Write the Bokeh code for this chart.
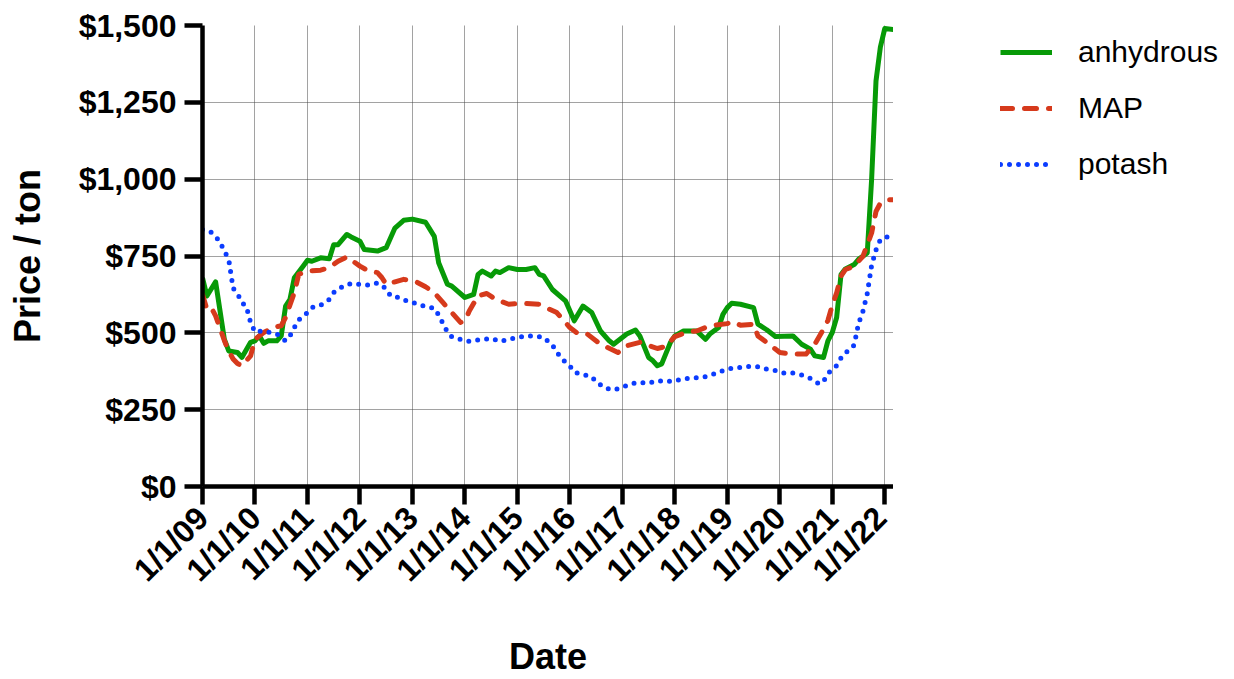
import math
from bokeh.plotting import figure
from bokeh.layouts import row
from bokeh.models import Range1d, FixedTicker, NumeralTickFormatter, Legend, LegendItem
from bokeh.embed import file_html
from bokeh.resources import INLINE

# ---------------- data (monthly prices, $/ton) ----------------
anh_dates = ["2009-01", "2009-02", "2009-04", "2009-06", "2009-07", "2009-09", "2009-10", "2009-12",
             "2010-01", "2010-02", "2010-03", "2010-04", "2010-06", "2010-07", "2010-08", "2010-09",
             "2010-10", "2010-12", "2011-01", "2011-02", "2011-04", "2011-06", "2011-07", "2011-08",
             "2011-10", "2011-11", "2012-01", "2012-02", "2012-05", "2012-07", "2012-09", "2012-11",
             "2013-01", "2013-04", "2013-06", "2013-07", "2013-09", "2013-10", "2014-01", "2014-03",
             "2014-04", "2014-05", "2014-07", "2014-08", "2014-09", "2014-11", "2015-01", "2015-03",
             "2015-05", "2015-06", "2015-07", "2015-09", "2015-12", "2016-02", "2016-04", "2016-06",
             "2016-08", "2016-10", "2016-11", "2017-02", "2017-04", "2017-05", "2017-07", "2017-08",
             "2017-09", "2017-10", "2017-12", "2018-01", "2018-03", "2018-06", "2018-08", "2018-09",
             "2018-11", "2018-12", "2019-01", "2019-02", "2019-04", "2019-07", "2019-08", "2019-10",
             "2019-12", "2020-04", "2020-06", "2020-08", "2020-09", "2020-11", "2020-12", "2021-01",
             "2021-02", "2021-03", "2021-04", "2021-06", "2021-07", "2021-09", "2021-10", "2021-11",
             "2021-12", "2022-01", "2022-03"]
anh_values = [679, 620, 666, 479, 441, 436, 420, 469,
              474, 490, 466, 474, 474, 490, 587, 609,
              679, 717, 736, 733, 744, 741, 787, 787,
              820, 812, 798, 771, 766, 777, 841, 866,
              870, 860, 814, 728, 658, 652, 615, 625,
              690, 701, 685, 701, 696, 712, 706, 706,
              712, 690, 685, 641, 604, 539, 587, 566,
              506, 474, 463, 496, 509, 490, 420, 409,
              393, 399, 469, 490, 506, 506, 479, 496,
              517, 560, 582, 596, 593, 582, 528, 510,
              488, 490, 463, 447, 425, 420, 474, 501,
              550, 690, 708, 722, 739, 760, 1000, 1320,
              1430, 1490, 1487]

map_dates = ["2009-01", "2009-02", "2009-03", "2009-04", "2009-06", "2009-07", "2009-08", "2009-09",
             "2009-10", "2009-12", "2010-01", "2010-03", "2010-05", "2010-07", "2010-08", "2010-10",
             "2010-11", "2011-01", "2011-04", "2011-06", "2011-08", "2011-10", "2012-01", "2012-03",
             "2012-05", "2012-06", "2012-07", "2012-11", "2013-02", "2013-04", "2013-06", "2013-08",
             "2013-10", "2013-12", "2014-01", "2014-02", "2014-04", "2014-06", "2014-08", "2014-11",
             "2015-02", "2015-06", "2015-08", "2015-10", "2016-01", "2016-03", "2016-05", "2016-08",
             "2016-12", "2017-02", "2017-05", "2017-09", "2017-11", "2018-01", "2018-04", "2018-06",
             "2018-09", "2019-01", "2019-02", "2019-04", "2019-07", "2019-08", "2019-10", "2020-01",
             "2020-04", "2020-07", "2020-09", "2020-11", "2020-12", "2021-01", "2021-02", "2021-03",
             "2021-04", "2021-06", "2021-08", "2021-10", "2021-11", "2021-12", "2022-02", "2022-03"]
map_values = [625, 577, 582, 555, 475, 440, 415, 400,
              393, 425, 479, 501, 517, 523, 550, 631,
              690, 701, 704, 712, 733, 747, 717, 701,
              696, 680, 658, 674, 665, 650, 631, 598,
              566, 534, 539, 571, 620, 628, 609, 593,
              596, 593, 579, 566, 517, 496, 496, 463,
              436, 458, 469, 449, 456, 488, 503, 506,
              523, 530, 536, 525, 528, 490, 469, 436,
              431, 431, 463, 512, 540, 590, 630, 685,
              706, 717, 749, 825, 895, 922, 933, 933]

pot_dates = ["2009-01", "2009-03", "2009-04", "2009-05", "2009-06", "2009-07", "2009-08", "2009-09",
             "2009-10", "2009-11", "2009-12", "2010-01", "2010-03", "2010-05", "2010-06", "2010-08",
             "2010-09", "2010-10", "2010-11", "2011-01", "2011-02", "2011-04", "2011-06", "2011-07",
             "2011-09", "2011-11", "2012-01", "2012-03", "2012-05", "2012-07", "2012-08", "2012-10",
             "2012-12", "2013-02", "2013-04", "2013-06", "2013-07", "2013-08", "2013-09", "2013-10",
             "2014-01", "2014-02", "2014-04", "2014-07", "2014-09", "2014-11", "2015-01", "2015-03",
             "2015-05", "2015-07", "2015-09", "2015-10", "2015-11", "2016-01", "2016-02", "2016-04",
             "2016-06", "2016-07", "2016-09", "2016-11", "2017-01", "2017-03", "2017-05", "2017-07",
             "2017-09", "2017-11", "2018-01", "2018-03", "2018-05", "2018-07", "2018-09", "2018-11",
             "2019-01", "2019-03", "2019-06", "2019-08", "2019-10", "2019-12", "2020-02", "2020-04",
             "2020-06", "2020-08", "2020-10", "2020-11", "2020-12", "2021-01", "2021-02", "2021-03",
             "2021-04", "2021-06", "2021-07", "2021-08", "2021-09", "2021-10", "2021-11", "2021-12",
             "2022-01", "2022-02", "2022-03"]
pot_values = [836, 827, 814, 795, 766, 739, 645, 628,
              598, 587, 534, 503, 506, 499, 496, 474,
              490, 517, 542, 566, 582, 590, 609, 631,
              650, 661, 658, 655, 662, 644, 620, 615,
              602, 595, 585, 580, 558, 530, 503, 487,
              474, 472, 477, 482, 472, 479, 485, 490,
              490, 485, 460, 438, 417, 392, 372, 364,
              357, 341, 320, 314, 323, 334, 339, 336,
              344, 341, 344, 350, 353, 354, 361, 372,
              382, 386, 391, 390, 382, 377, 369, 369,
              363, 352, 334, 342, 368, 380, 393, 418,
              434, 460, 530, 570, 628, 720, 770, 803,
              810, 814, 816]

tick_years = [2009, 2010, 2011, 2012, 2013, 2014, 2015, 2016, 2017, 2018, 2019, 2020, 2021, 2022]
tick_labels = ["1/1/09", "1/1/10", "1/1/11", "1/1/12", "1/1/13", "1/1/14", "1/1/15",
               "1/1/16", "1/1/17", "1/1/18", "1/1/19", "1/1/20", "1/1/21", "1/1/22"]
y_ticks = [0, 250, 500, 750, 1000, 1250, 1500]
series_names = ["anhydrous", "MAP", "potash"]


def to_year(s):
    y, m = s.split("-")
    return int(y) + (int(m) - 1) / 12.0


FONT = "Liberation Sans"
STYLES = [dict(line_color="#079a07", line_width=5, line_join="round"),
          dict(line_color="#d63a1c", line_width=5, line_dash="12 12", line_cap="round", line_join="round"),
          dict(line_color="#0b3cff", line_width=5, line_dash="0 9", line_cap="round")]
SERIES = [([to_year(d) for d in anh_dates], anh_values),
          ([to_year(d) for d in map_dates], map_values),
          ([to_year(d) for d in pot_dates], pot_values)]

p = figure(width=893, height=679, output_backend="svg", toolbar_location=None,
           x_range=Range1d(2009, 2022 + 2 / 12.0), y_range=Range1d(0, 1500),
           min_border_left=202, min_border_right=0, min_border_top=25, min_border_bottom=191)
p.outline_line_color = None
p.background_fill_color = "white"
p.border_fill_color = "white"

for (xs, ys), st in zip(SERIES, STYLES):
    p.line(xs, ys, **st)

# axes
p.xaxis.ticker = FixedTicker(ticks=tick_years)
p.xaxis.major_label_overrides = {y: l for y, l in zip(tick_years, tick_labels)}
p.xaxis.major_label_orientation = math.pi / 4
p.yaxis.ticker = FixedTicker(ticks=y_ticks)
p.yaxis.formatter = NumeralTickFormatter(format="$0,0")
p.xaxis.axis_label = "Date"
p.yaxis.axis_label = "Price / ton"

for ax in (p.xaxis, p.yaxis):
    ax.axis_line_width = 4.5
    ax.axis_line_color = "black"
    ax.major_tick_line_width = 4.5
    ax.major_tick_line_color = "black"
    ax.major_tick_out = 18
    ax.major_tick_in = 0
    ax.minor_tick_line_color = None
    ax.major_label_text_font = FONT
    ax.major_label_text_font_style = "bold"
    ax.major_label_text_font_size = "32px"
    ax.major_label_text_color = "black"
    ax.major_label_standoff = 8
    ax.axis_label_text_font = FONT
    ax.axis_label_text_font_style = "bold"
    ax.axis_label_text_font_size = "36px"
    ax.axis_label_text_color = "black"
p.yaxis.axis_label_standoff = 28
p.xaxis.axis_label_standoff = 32

# grid
for g in (p.xgrid, p.ygrid):
    g.grid_line_color = "#444444"
    g.grid_line_width = 1
    g.grid_line_dash = "1 1"
p.xgrid.ticker = FixedTicker(ticks=tick_years)
p.ygrid.ticker = FixedTicker(ticks=y_ticks)

# legend panel to the right of the plot (same series, drawn outside its view; only the key shows)
pl = figure(width=341, height=679, output_backend="svg", toolbar_location=None,
            x_axis_type=None, y_axis_type=None, x_range=Range1d(0, 1), y_range=Range1d(0, 1),
            min_border_left=97, min_border_top=25, min_border_right=0, min_border_bottom=0)
pl.outline_line_color = None
pl.grid.visible = False
keys = [pl.line(xs, ys, **st) for (xs, ys), st in zip(SERIES, STYLES)]
legend = Legend(items=[LegendItem(label=n, renderers=[r]) for n, r in zip(series_names, keys)],
                location="top_left", padding=0, margin=10, spacing=22,
                glyph_width=52, glyph_height=30, label_height=30, label_standoff=26,
                label_text_font=FONT, label_text_font_size="30px", label_text_color="black",
                border_line_color=None, background_fill_alpha=0)
pl.add_layout(legend, "center")

layout = row(p, pl)
open("out.html", "w").write(file_html(layout, INLINE))
